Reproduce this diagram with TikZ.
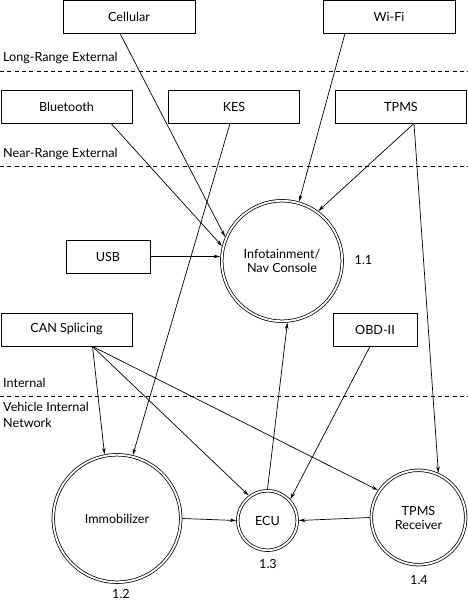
\documentclass[tikz,border=0pt]{standalone}
\usepackage{fontspec}
\setmainfont{Lato}
\usetikzlibrary{arrows.meta}
\begin{document}
\begin{tikzpicture}[x=1pt,y=-1pt,
  font=\fontsize{12.6}{14}\selectfont,
  box/.style={draw,line width=0.8pt,minimum height=33pt,inner sep=0pt},
  wbox/.style={box,minimum width=131pt},
  sbox/.style={box,minimum width=84pt},
  dcirc/.style={circle,draw,line width=0.75pt,double,double distance=1.8pt,inner sep=0pt,outer sep=1.65pt,align=center},
  conn/.style={line width=0.7pt,-{Stealth[length=6.5pt,width=3.6pt]}},
  zone/.style={dashed,line width=0.7pt,dash pattern=on 4pt off 3.3pt},
  lbl/.style={anchor=west,inner sep=0pt,align=left}]
\useasboundingbox (0,0) rectangle (468,600);
% zone separators
\draw[zone] (0,71) -- (468,71);
\draw[zone] (0,166) -- (468,166);
\draw[zone] (0,396) -- (468,396);
\node[lbl] (lre) at (3,58) {Long-Range External};
\node[lbl] (nre) at (3,154) {Near-Range External};
\node[lbl] (int) at (3,383) {Internal};
\node[lbl] (vin) at (3,415) {Vehicle Internal\\[1.5pt]Network};
% boxes
\node[box,minimum width=132pt] (cell) at (129,16.5) {Cellular};
\node[box,minimum width=132pt] (wifi) at (389,16.5) {Wi-Fi};
\node[wbox] (bt) at (66.5,106.5) {Bluetooth};
\node[wbox] (kes) at (234,106.5) {KES};
\node[wbox] (tpms) at (401,106.5) {TPMS};
\node[sbox] (usb) at (108,256.5) {USB};
\node[wbox] (can) at (66.5,329.5) {CAN Splicing};
\node[sbox] (obd) at (375,329.5) {OBD-II};
% circles
\node[dcirc,minimum size=120.4pt] (info) at (282,261) {Infotainment/\\Nav Console};
\node[dcirc,minimum size=127.4pt] (immo) at (117,518.5) {Immobilizer};
\node[dcirc,minimum size=59.4pt] (ecu) at (267.5,520.5) {ECU};
\node[dcirc,minimum size=94.4pt] (tpr) at (418.5,517.5) {TPMS\\Receiver};
% numbers
\node (n11) at (363.5,260) {1.1};
\node (n12) at (121,594) {1.2};
\node (n13) at (268,564) {1.3};
\node (n14) at (419,580) {1.4};
% connectors
\draw[conn] ([xshift=-9pt]cell.south) -- (info.157);
\draw[conn] ([xshift=-44pt]wifi.south) -- (info.74);
\draw[conn] ([xshift=44.5pt]bt.south) -- (info.166);
\draw[conn] ([xshift=-4pt]kes.south) -- (immo.76);
\draw[conn] ([xshift=13pt]tpms.south) -- (info.54);
\draw[conn] ([xshift=13pt]tpms.south) -- (tpr.66);
\draw[conn] (usb.east) -- (info.west |- usb.east);
\draw[conn] ([xshift=26pt]can.south) -- (immo.101);
\draw[conn] ([xshift=26pt]can.south) -- (ecu.127);
\draw[conn] ([xshift=26pt]can.south) -- (tpr.146);
\draw[conn] ([xshift=-5pt]obd.south) -- (ecu.43);
\draw[conn] (ecu.north) -- (info.-85);
\draw[conn] (immo.east) -- (ecu.west);
\draw[conn] (tpr.west) -- (ecu.east);
\end{tikzpicture}
\end{document}
